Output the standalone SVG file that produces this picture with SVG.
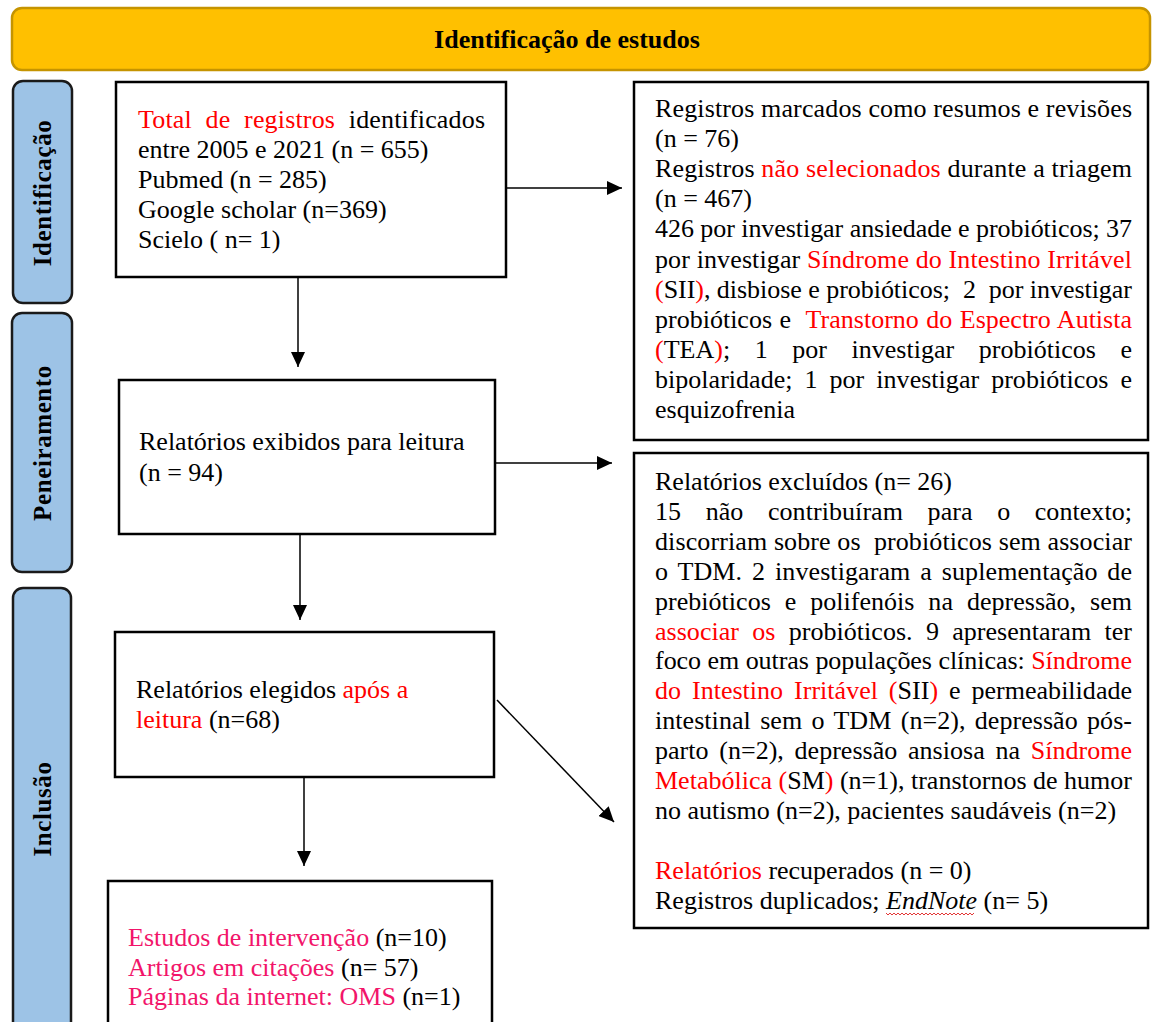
<svg xmlns="http://www.w3.org/2000/svg" width="1152" height="1022" viewBox="0 0 1152 1022">
<style>
text{font-family:"Liberation Serif","Times New Roman",serif;font-size:26px;fill:#000}
.r{fill:#FF0000}
.p{fill:#F2156A}
.lbl{font-weight:bold;font-size:25px;letter-spacing:0.6px}
.hdr{font-weight:bold;font-size:26px}
.box{fill:#fff;stroke:#000;stroke-width:2.5}
.side{fill:#9DC3E6;stroke:#1a1a1a;stroke-width:2.5}
.con{stroke:#000;stroke-width:1.5;fill:none;marker-end:url(#ah)}
</style>
<defs>
<marker id="ah" markerUnits="userSpaceOnUse" markerWidth="15" markerHeight="14" refX="15" refY="7" orient="auto">
<path d="M0,0 L15,7 L0,14 z" fill="#000"/>
</marker>
</defs>
<rect width="1152" height="1022" fill="#fff"/>

<g id="header">
<rect x="12" y="8" width="1138" height="62" rx="10" fill="#FFC000" stroke="#C59400" stroke-width="2.5"/>
<text class="hdr" x="567" y="48" text-anchor="middle">Identificação de estudos</text>
</g>

<g id="side-identificacao">
<rect class="side" x="13" y="81" width="59" height="222" rx="10"/>
<text class="lbl" transform="translate(51,193) rotate(-90)" text-anchor="middle">Identificação</text>
</g>
<g id="side-peneiramento">
<rect class="side" x="12" y="313" width="60" height="259" rx="10"/>
<text class="lbl" transform="translate(51,443) rotate(-90)" text-anchor="middle">Peneiramento</text>
</g>
<g id="side-inclusao">
<rect class="side" x="13" y="588" width="58" height="470" rx="10"/>
<text class="lbl" transform="translate(51,809) rotate(-90)" text-anchor="middle">Inclusão</text>
</g>

<g id="connectors">
<line class="con" x1="506" y1="188" x2="622" y2="188"/>
<line class="con" x1="298" y1="277" x2="298" y2="367"/>
<line class="con" x1="495" y1="463" x2="612" y2="463"/>
<line class="con" x1="300" y1="534" x2="300" y2="620"/>
<line class="con" x1="497" y1="700" x2="614" y2="822"/>
<line class="con" x1="304" y1="777" x2="304" y2="866"/>
</g>

<g id="box-registros">
<rect class="box" x="116" y="82" width="390" height="195"/>
<text x="138" y="128" textLength="347" lengthAdjust="spacing" word-spacing="7"><tspan class="r">Total de registros</tspan> identificados</text>
<text x="138" y="158">entre 2005 e 2021 (n = 655)</text>
<text x="138" y="188">Pubmed (n = 285)</text>
<text x="138" y="218">Google scholar (n=369)</text>
<text x="138" y="248">Scielo ( n= 1)</text>
</g>

<g id="box-excluidos-triagem">
<rect class="box" x="634" y="82" width="514" height="358"/>
<text x="655" y="117" textLength="477" lengthAdjust="spacing">Registros marcados como resumos e revisões</text>
<text x="655" y="147.1">(n = 76)</text>
<text x="655" y="177.2" textLength="477" lengthAdjust="spacing">Registros <tspan class="r">não selecionados</tspan> durante a triagem</text>
<text x="655" y="207.3">(n = 467)</text>
<text x="655" y="237.4" textLength="477" lengthAdjust="spacing">426 por investigar ansiedade e probióticos; 37</text>
<text x="655" y="267.5" textLength="477" lengthAdjust="spacing">por investigar <tspan class="r">Síndrome do Intestino Irritável</tspan></text>
<text x="655" y="297.6" textLength="477" lengthAdjust="spacing"><tspan class="r">(</tspan>SII<tspan class="r">)</tspan>, disbiose e probióticos;&#160; 2&#160; por investigar</text>
<text x="655" y="327.7" textLength="477" lengthAdjust="spacing" word-spacing="1">probióticos e&#160; <tspan class="r">Transtorno do Espectro Autista</tspan></text>
<text x="655" y="357.8" textLength="477" lengthAdjust="spacing" word-spacing="18"><tspan class="r">(</tspan>TEA<tspan class="r">)</tspan>; 1 por investigar probióticos e</text>
<text x="655" y="387.9" textLength="477" lengthAdjust="spacing" word-spacing="5.5">bipolaridade; 1 por investigar probióticos e</text>
<text x="655" y="418">esquizofrenia</text>
</g>

<g id="box-exibidos">
<rect class="box" x="119" y="380" width="376" height="154"/>
<text x="139" y="450">Relatórios exibidos para leitura</text>
<text x="139" y="481">(n = 94)</text>
</g>

<g id="box-excluidos-leitura">
<rect class="box" x="634" y="453" width="514" height="475"/>
<text x="655" y="490">Relatórios excluídos (n= 26)</text>
<text x="655" y="519.9" textLength="477" lengthAdjust="spacing" word-spacing="18">15 não contribuíram para o contexto;</text>
<text x="655" y="549.8" textLength="477" lengthAdjust="spacing">discorriam sobre os&#160; probióticos sem associar</text>
<text x="655" y="579.7" textLength="477" lengthAdjust="spacing" word-spacing="3.3">o TDM. 2 investigaram a suplementação de</text>
<text x="655" y="609.6" textLength="477" lengthAdjust="spacing" word-spacing="7.4">prebióticos e polifenóis na depressão, sem</text>
<text x="655" y="639.5" textLength="477" lengthAdjust="spacing" word-spacing="6.8"><tspan class="r">associar os</tspan> probióticos. 9 apresentaram ter</text>
<text x="655" y="669.4" textLength="477" lengthAdjust="spacing">foco em outras populações clínicas: <tspan class="r">Síndrome</tspan></text>
<text x="655" y="699.3" textLength="477" lengthAdjust="spacing" word-spacing="4.4"><tspan class="r">do Intestino Irritável (</tspan>SII<tspan class="r">)</tspan> e permeabilidade</text>
<text x="655" y="729.2" textLength="477" lengthAdjust="spacing" word-spacing="2.8">intestinal sem o TDM (n=2), depressão pós-</text>
<text x="655" y="759.1" textLength="477" lengthAdjust="spacing" word-spacing="4.2">parto (n=2), depressão ansiosa na <tspan class="r">Síndrome</tspan></text>
<text x="655" y="789" textLength="477" lengthAdjust="spacing"><tspan class="r">Metabólica (</tspan>SM<tspan class="r">)</tspan> (n=1), transtornos de humor</text>
<text x="655" y="818.9">no autismo (n=2), pacientes saudáveis (n=2)</text>
<text x="655" y="878.7"><tspan class="r">Relatórios</tspan> recuperados (n = 0)</text>
<text x="655" y="908.6">Registros duplicados; <tspan font-style="italic">EndNote</tspan> (n= 5)</text>
<path d="M886 913 l2 2 l2 -2 l2 2 l2 -2 l2 2 l2 -2 l2 2 l2 -2 l2 2 l2 -2 l2 2 l2 -2 l2 2 l2 -2 l2 2 l2 -2 l2 2 l2 -2 l2 2 l2 -2 l2 2 l2 -2 l2 2 l2 -2 l2 2 l2 -2 l2 2 l2 -2 l2 2 l2 -2 l2 2 l2 -2 l2 2 l2 -2 l2 2 l2 -2 l2 2 l2 -2 l2 2 l2 -2 l2 2 l2 -2 l2 2 l2 -2" fill="none" stroke="#E02020" stroke-width="0.9"/>
</g>

<g id="box-elegidos">
<rect class="box" x="115" y="632" width="379" height="145"/>
<text x="136" y="698">Relatórios elegidos <tspan class="r">após a</tspan></text>
<text x="136" y="728"><tspan class="r">leitura</tspan> (n=68)</text>
</g>

<g id="box-incluidos">
<rect class="box" x="108" y="881" width="384" height="170"/>
<text x="128" y="946"><tspan class="p">Estudos de intervenção</tspan> (n=10)</text>
<text x="128" y="976"><tspan class="p">Artigos em citações</tspan> (n= 57)</text>
<text x="128" y="1005"><tspan class="p">Páginas da internet: OMS</tspan> (n=1)</text>
</g>
</svg>
